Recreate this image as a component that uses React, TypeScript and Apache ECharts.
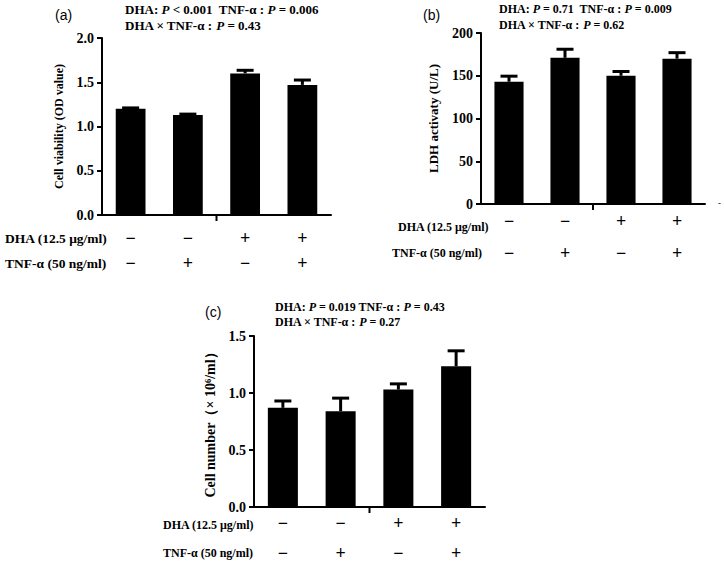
import React, { useEffect, useRef } from "react";
import * as echarts from "echarts";

// ---- data ----
const groups = ["G1", "G2", "G3", "G4"];
const dhaSigns = ["−", "−", "+", "+"];
const tnfSigns = ["−", "+", "−", "+"];

const viability = [1.2, 1.13, 1.6, 1.47];
const viabilityErr = [0.01, 0.01, 0.035, 0.055];

const ldh = [143, 171, 150, 170];
const ldhErr = [6.5, 10, 5, 7];

const cellNumber = [0.87, 0.84, 1.03, 1.235];
const cellNumberErr = [0.06, 0.115, 0.05, 0.135];

const ticksA = { min: 0, max: 2, interval: 0.5 };
const ticksB = { min: 0, max: 200, interval: 50 };
const ticksC = { min: 0, max: 1.5, interval: 0.5 };

const SERIF = "'Liberation Serif', 'Times New Roman', serif";
const SANS = "'Liberation Sans', Arial, sans-serif";

function errRender(params: any, api: any) {
  const x = api.value(0);
  const v = api.value(1);
  const e = api.value(2);
  const p0 = api.coord([x, v]);
  const p1 = api.coord([x, v + e]);
  const half = 8.5;
  const children: any[] = [
    { type: "line", shape: { x1: p0[0], y1: p0[1], x2: p1[0], y2: p1[1] }, style: { stroke: "#000", lineWidth: 3 } },
    { type: "line", shape: { x1: p1[0] - half, y1: p1[1], x2: p1[0] + half, y2: p1[1] }, style: { stroke: "#000", lineWidth: 3 } },
  ];
  return { type: "group", children };
}

// single x-axis tick between the 2nd and 3rd groups
function tickRender(params: any, api: any) {
  const a = api.coord([api.value(0), api.value(2)]);
  const b = api.coord([api.value(1), api.value(2)]);
  const mx = (a[0] + b[0]) / 2;
  return {
    type: "rect",
    shape: { x: mx - 1, y: a[1], width: 2, height: 6 },
    style: { fill: "#000" },
  };
}

function catAxis(gridIndex: number, margin: number, lh1: number, lh2: number) {
  const sign = { fontFamily: SERIF, fontWeight: "bold", fontSize: 18, color: "#000" };
  return {
    type: "category",
    gridIndex,
    data: groups,
    boundaryGap: true,
    axisLine: { lineStyle: { color: "#000", width: 2 } },
    axisTick: { show: false },
    axisLabel: {
      margin,
      interval: 0,
      color: "#000",
      formatter: (_v: string, i: number) => `{a|${dhaSigns[i]}}\n{b|${tnfSigns[i]}}`,
      rich: {
        a: { ...sign, lineHeight: lh1 },
        b: { ...sign, lineHeight: lh2 },
      },
    },
  };
}

function valAxis(gridIndex: number, t: any, name: string, nameGap: number, nameSize: number, digits: number) {
  return {
    type: "value",
    gridIndex,
    min: t.min,
    max: t.max,
    interval: t.interval,
    name,
    nameLocation: "middle",
    nameRotate: 90,
    nameGap,
    nameTextStyle: { fontFamily: SERIF, fontWeight: "bold", fontSize: nameSize, color: "#000" },
    axisLine: { show: true, lineStyle: { color: "#000", width: 2 } },
    axisTick: { show: true, length: 5, lineStyle: { color: "#000", width: 2 } },
    splitLine: { show: false },
    axisLabel: {
      margin: 8,
      fontFamily: SERIF,
      fontWeight: "bold",
      fontSize: 14,
      color: "#000",
      formatter: (v: number) => v.toFixed(digits),
    },
  };
}

function header(x: number, y1: number, y2: number, l1: string, l2: string, size: number) {
  const rich = {
    b: { fontFamily: SERIF, fontWeight: "bold", fontSize: size, fill: "#000" },
    i: { fontFamily: SERIF, fontWeight: "bold", fontStyle: "italic", fontSize: size, fill: "#000" },
  };
  return [
    { type: "text", x, y: y1, style: { text: l1, rich, verticalAlign: "middle", align: "left" } },
    { type: "text", x, y: y2, style: { text: l2, rich, verticalAlign: "middle", align: "left" } },
  ];
}

function plain(x: number, y: number, text: string, font: string, size: number, bold = true) {
  return {
    type: "text",
    x,
    y,
    style: {
      text,
      fontFamily: font,
      fontSize: size,
      fontWeight: bold ? "bold" : "normal",
      fill: "#000",
      verticalAlign: "middle",
      align: "left",
    },
  };
}

export default function App() {
  const ref = useRef<HTMLDivElement>(null);
  useEffect(() => {
    if (!ref.current) return;
    const chart = echarts.init(ref.current, undefined, { renderer: "svg" });
    const bar = (xi: number, yi: number, data: number[]) => ({
      type: "bar",
      xAxisIndex: xi,
      yAxisIndex: yi,
      data,
      barWidth: "52%",
      itemStyle: { color: "#000" },
      z: 2,
    });
    const err = (xi: number, yi: number, v: number[], e: number[]) => ({
      type: "custom",
      xAxisIndex: xi,
      yAxisIndex: yi,
      renderItem: errRender,
      encode: { x: 0, y: 1 },
      data: v.map((val, i) => [i, val, e[i]]),
      z: 3,
    });
    const tick = (k: number) => ({
      type: "custom",
      xAxisIndex: k,
      yAxisIndex: k,
      renderItem: tickRender,
      clip: false,
      encode: { x: [0, 1], y: 2 },
      data: [[1, 2, 0]],
      z: 10,
    });
    chart.setOption({
      animation: false,
      backgroundColor: "#fff",
      grid: [
        { left: 102, top: 38, width: 229, height: 177 },
        { left: 481, top: 33, width: 224, height: 171 },
        { left: 254, top: 336, width: 231, height: 171 },
      ],
      xAxis: [catAxis(0, 10, 25, 25), catAxis(1, 7, 20, 44), catAxis(2, 6, 20, 40)],
      yAxis: [
        valAxis(0, ticksA, "Cell viability (OD value)", 37, 12, 1),
        valAxis(1, ticksB, "LDH activaty (U/L)", 41, 13, 0),
        valAxis(2, ticksC, "Cell number（× 10⁶/ml）", 37, 14, 1),
      ],
      series: [
        bar(0, 0, viability),
        err(0, 0, viability, viabilityErr),
        tick(0),
        bar(1, 1, ldh),
        err(1, 1, ldh, ldhErr),
        tick(1),
        bar(2, 2, cellNumber),
        err(2, 2, cellNumber, cellNumberErr),
        tick(2),
      ],
      graphic: [
        plain(55, 15, "(a)", SANS, 14, false),
        plain(423, 15, "(b)", SANS, 14, false),
        plain(205, 312, "(c)", SANS, 14, false),
        ...header(125, 9, 25, "{b|DHA: }{i|P}{b| < 0.001  TNF-α : }{i|P}{b| = 0.006}", "{b|DHA × TNF-α : }{i|P}{b| = 0.43}", 13),
        ...header(499, 9, 25, "{b|DHA: }{i|P}{b| = 0.71  TNF-α : }{i|P}{b| = 0.009}", "{b|DHA × TNF-α : }{i|P}{b| = 0.62}", 12),
        ...header(275, 307, 322, "{b|DHA: }{i|P}{b| = 0.019 TNF-α : }{i|P}{b| = 0.43}", "{b|DHA × TNF-α : }{i|P}{b| = 0.27}", 12),
        plain(5, 238, "DHA (12.5 μg/ml)", SERIF, 13.5),
        plain(5, 263, "TNF-α (50 ng/ml)", SERIF, 13.5),
        plain(398, 227, "DHA (12.5 μg/ml)", SERIF, 12),
        plain(392, 253, "TNF-α (50 ng/ml)", SERIF, 12),
        plain(163, 525, "DHA (12.5 μg/ml)", SERIF, 12),
        plain(163, 553, "TNF-α (50 ng/ml)", SERIF, 12),
        plain(718, 203, "-", SANS, 9, false),
      ],
    });
    return () => chart.dispose();
  }, []);
  return (
    <div
      ref={ref}
      style={{ position: "absolute", left: 0, top: 0, width: 724, height: 564, background: "#fff" }}
    />
  );
}
